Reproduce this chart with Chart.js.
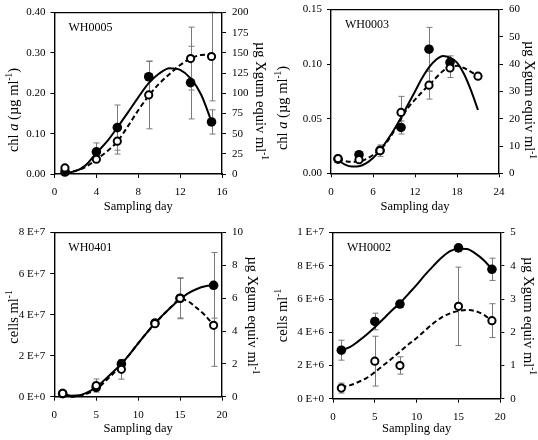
<!DOCTYPE html>
<html>
<head>
<meta charset="utf-8">
<script src="https://cdn.jsdelivr.net/npm/chart.js@4.4.1/dist/chart.umd.min.js"></script>
<style>
  body { margin: 0; background: #fff; }
  #wrap { position: relative; width: 538px; height: 440px; overflow: hidden; background: #fff; }
  canvas { position: absolute; }
</style>
</head>
<body>
<div id="wrap">
  <canvas id="c1" width="269" height="218" style="left:0;top:0"></canvas>
  <canvas id="c2" width="269" height="221" style="left:269px;top:-3px"></canvas>
  <canvas id="c3" width="269" height="220" style="left:0;top:220px"></canvas>
  <canvas id="c4" width="269" height="220" style="left:269px;top:220px"></canvas>
</div>
<script>
// ---- data ----
// WH0005
const days1 = [1, 4, 6, 9, 13, 15];
const chl1 = [0.005, 0.055, 0.115, 0.241, 0.2265, 0.129];
const chl1Err = [0, 0.022, 0.056, 0.038, 0.09, 0.03];
const xgum1 = [7.5, 18.3, 40.7, 98, 143, 145.6];
const xgum1Err = [0, 2, 16, 42, 39, 55];
const fitDays1 = [1, 2, 3, 4, 5, 6, 7, 8, 9, 10, 11, 12, 13, 14, 15];
const chlFit1 = [0.003, 0.007, 0.022, 0.052, 0.08, 0.115, 0.152, 0.19, 0.225, 0.249, 0.262, 0.258, 0.237, 0.197, 0.13];
const xgumFit1 = [3, 4, 9, 18, 28, 40, 59, 79, 97, 112, 124, 135, 143, 147.5, 148];
const leftTicks1 = ['0.00', '0.10', '0.20', '0.30', '0.40'];
const rightTicks1 = ['0', '25', '50', '75', '100', '125', '150', '175', '200'];
const xTicks1 = ['0', '4', '8', '12', '16'];

// WH0003
const daysF2 = [1, 4, 7, 10, 14, 17];
const chl2 = [0.013, 0.017, 0.021, 0.042, 0.1137, 0.1016];
const chl2Err = [0, 0, 0, 0.006, 0.02, 0.006];
const daysO2 = [1, 4, 7, 10, 14, 17, 21];
const xgum2 = [5.4, 5, 8.3, 22.3, 32.3, 38.6, 35.6];
const xgum2Err = [0, 0, 2.1, 5.9, 5.1, 3.5, 0];
const fitDays2 = [1, 2, 3, 4, 5, 6, 7, 8, 9, 10, 11, 12, 13, 14, 15, 16, 17, 18, 19, 20, 21];
const chlFit2 = [0.012, 0.008, 0.0062, 0.0065, 0.009, 0.014, 0.021, 0.03, 0.04, 0.051, 0.063, 0.075, 0.087, 0.097, 0.104, 0.1075, 0.106, 0.1015, 0.091, 0.076, 0.058];
const xgumFit2 = [5.2, 4.5, 4.2, 4.3, 5.2, 6.7, 8.6, 11.5, 15.5, 20, 24, 27, 29.8, 32.3, 35, 37.5, 39, 39.4, 38.6, 37.2, 35.6];
const leftTicks2 = ['0.00', '0.05', '0.10', '0.15'];
const rightTicks2 = ['0', '10', '20', '30', '40', '50', '60'];
const xTicks2 = ['0', '6', '12', '18', '24'];

// WH0401
const days3 = [1, 5, 8, 12, 15, 19];
const cells3 = [1.5e6, 4.5e6, 1.6e7, 3.59e7, 4.8e7, 5.43e7];
const cells3Err = [0, 0, 0, 0, 1.0e7, 1.6e7];
const xgum3 = [0.2, 0.68, 1.67, 4.45, 6.0, 4.35];
const xgum3Err = [0, 0.4, 0.6, 0, 1.2, 2.5];
const fitDays3 = [1, 2, 3, 4, 5, 6, 7, 8, 9, 10, 11, 12, 13, 14, 15, 16, 17, 18, 19];
const cellsFit3 = [1.5e6, 0.5e6, 0.7e6, 2.2e6, 4.6e6, 8.2e6, 1.2e7, 1.6e7, 2.08e7, 2.6e7, 3.1e7, 3.58e7, 4.0e7, 4.4e7, 4.75e7, 5.05e7, 5.25e7, 5.38e7, 5.43e7];
const xgumFit3 = [0.1, 0.0, 0.05, 0.2, 0.45, 0.9, 1.4, 2.0, 2.6, 3.25, 3.88, 4.45, 5.0, 5.5, 5.95, 5.8, 5.4, 4.95, 4.35];
const leftTicks3 = ['0 E+0', '2 E+7', '4 E+7', '6 E+7', '8 E+7'];
const rightTicks3 = ['0', '2', '4', '6', '8', '10'];
const xTicks3 = ['0', '5', '10', '15', '20'];

// WH0002
const days4 = [1, 5, 8, 15, 19];
const cells4 = [2.92e6, 4.65e6, 5.7e6, 9.08e6, 7.79e6];
const cells4Err = [0.6e6, 0.5e6, 0.2e6, 0.2e6, 0.67e6];
const xgum4 = [0.32, 1.13, 1.0, 2.78, 2.35];
const xgum4Err = [0.15, 0.75, 0.26, 1.18, 0.51];
const fitDays4 = [1, 2, 3, 4, 5, 6, 7, 8, 9, 10, 11, 12, 13, 14, 15, 16, 17, 18, 19];
const cellsFit4 = [2.9e6, 3.1e6, 3.45e6, 3.85e6, 4.3e6, 4.8e6, 5.3e6, 5.75e6, 6.3e6, 6.85e6, 7.45e6, 8.0e6, 8.5e6, 8.88e6, 9.03e6, 9.02e6, 8.75e6, 8.35e6, 7.8e6];
const xgumFit4 = [0.35, 0.4, 0.5, 0.62, 0.8, 1.0, 1.2, 1.42, 1.63, 1.83, 2.05, 2.27, 2.45, 2.57, 2.64, 2.67, 2.64, 2.53, 2.35];
const leftTicks4 = ['0 E+0', '2 E+6', '4 E+6', '6 E+6', '8 E+6', '1 E+7'];
const rightTicks4 = ['0', '1', '2', '3', '4', '5'];
const xTicks4 = ['0', '5', '10', '15', '20'];

// axis titles (italic / superscript parts)
const chlTitle = [{ t: 'chl ' }, { t: 'a', it: true }, { t: ' (µg ml' }, { t: '-1', sup: true }, { t: ')' }];
const cellsTitle = [{ t: 'cells ml' }, { t: '-1', sup: true }];
const xgumTitle = [{ t: 'µg Xgum equiv ml' }, { t: '-1', sup: true }];

const FONT = "'Liberation Serif', 'Times New Roman', serif";

function pts(xs, ys) {
    return xs.map(function (x, i) { return { x: x, y: ys[i] }; });
}

function drawRich(ctx, segs, x, y, rot, size) { // texte tourné avec italique / exposant
    function fontFor(s) {
        return (s.it ? 'italic ' : '') + (s.sup ? size * 0.65 : size) + 'px ' + FONT;
    }
    ctx.save();
    ctx.translate(x, y);
    ctx.rotate(rot);
    var w = 0;
    segs.forEach(function (s) { ctx.font = fontFor(s); w += ctx.measureText(s.t).width; });
    var cx = -w / 2;
    ctx.textBaseline = 'middle';
    ctx.fillStyle = '#000';
    segs.forEach(function (s) {
        ctx.font = fontFor(s);
        ctx.fillText(s.t, cx, s.sup ? -size * 0.3 : 0);
        cx += ctx.measureText(s.t).width;
    });
    ctx.restore();
}

// error bars (grey, under the markers) + top frame line + panel name + y titles
const extras = {
    id: 'extras',
    beforeDatasetsDraw(chart) {
        const ctx = chart.ctx;
        ctx.save();
        ctx.strokeStyle = '#7a7a7a';
        ctx.lineWidth = 1;
        chart.data.datasets.forEach(function (ds) {
            if (!ds.errors) return;
            const ys = chart.scales[ds.yAxisID];
            ds.data.forEach(function (p, j) {
                const e = ds.errors[j];
                if (!e) return;
                const x = Math.round(chart.scales.x.getPixelForValue(p.x)) + 0.5;
                const y1 = ys.getPixelForValue(p.y + e);
                const y2 = ys.getPixelForValue(p.y - e);
                ctx.beginPath();
                ctx.moveTo(x, y1); ctx.lineTo(x, y2);
                ctx.moveTo(x - 3, y1); ctx.lineTo(x + 3, y1);
                ctx.moveTo(x - 3, y2); ctx.lineTo(x + 3, y2);
                ctx.stroke();
            });
        });
        ctx.restore();
    },
    afterDraw(chart, args, opts) {
        const ctx = chart.ctx;
        const a = chart.chartArea;
        ctx.save();
        ctx.strokeStyle = '#000';
        ctx.lineWidth = 1.4;
        ctx.beginPath();
        ctx.moveTo(a.left, a.top);
        ctx.lineTo(a.right, a.top);
        ctx.stroke();
        ctx.fillStyle = '#000';
        ctx.font = '12px ' + FONT;
        ctx.textBaseline = 'middle';
        ctx.fillText(opts.text, a.left + 14, a.top + 15);
        ctx.restore();
        drawRich(ctx, opts.lTitle, 14, opts.lY, -Math.PI / 2, 14.5);
        drawRich(ctx, xgumTitle, opts.rX, opts.rY, Math.PI / 2, 14.5);
    }
};

function makePanel(id, p) {
    const axisFont = { family: FONT, size: 11 };
    new Chart(document.getElementById(id), {
        type: 'line',
        data: {
            datasets: [
                { data: pts(p.openDays, p.right), errors: p.rightErr, yAxisID: 'yR', showLine: false,
                  pointRadius: 3.6, pointBorderWidth: 2, pointBackgroundColor: '#fff', pointBorderColor: '#000' },
                { data: pts(p.days, p.left), errors: p.leftErr, yAxisID: 'yL', showLine: false,
                  pointRadius: 4.8, pointBorderWidth: 0, pointBackgroundColor: '#000', pointBorderColor: '#000' },
                { data: pts(p.fitDays, p.leftFit), yAxisID: 'yL', borderColor: '#000', borderWidth: 2,
                  pointRadius: 0, cubicInterpolationMode: 'monotone' },
                { data: pts(p.fitDays, p.rightFit), yAxisID: 'yR', borderColor: '#000', borderWidth: 2,
                  borderDash: [5, 3], pointRadius: 0, cubicInterpolationMode: 'monotone' }
            ]
        },
        options: {
            responsive: false,
            animation: false,
            clip: false,
            layout: { padding: { top: p.g.top, left: 0, right: 0, bottom: 0 } },
            plugins: {
                legend: { display: false }, tooltip: { enabled: false },
                extras: { text: p.name, lTitle: p.lTitle, rX: p.g.rx, lY: p.g.ly, rY: p.g.ry }
            },
            scales: {
                x: {
                    type: 'linear', min: p.xMin, max: p.xMax,
                    ticks: { stepSize: p.xStep, color: '#000', font: axisFont, padding: 8, maxRotation: 0,
                             callback: function (v, i) { return p.xTicks[i]; } },
                    grid: { drawOnChartArea: false, color: '#000', tickLength: 4 },
                    border: { color: '#000', width: 1.4 },
                    title: { display: true, text: 'Sampling day', color: '#000', font: { family: FONT, size: 12.5 },
                             padding: { top: 0, bottom: 4 } },
                    afterFit: function (s) { s.height = p.g.xH; }
                },
                yL: {
                    position: 'left', min: 0, max: p.lMax,
                    ticks: { stepSize: p.lStep, color: '#000', font: axisFont, padding: 5,
                             callback: function (v, i) { return p.lTicks[i]; } },
                    grid: { drawOnChartArea: false, color: '#000', tickLength: 4 },
                    border: { color: '#000', width: 1.4 },
                    afterFit: function (s) { s.width = p.g.yl; }
                },
                yR: {
                    position: 'right', min: 0, max: p.rMax,
                    ticks: { stepSize: p.rStep, color: '#000', font: axisFont, padding: 6,
                             callback: function (v, i) { return p.rTicks[i]; } },
                    grid: { drawOnChartArea: false, color: '#000', tickLength: 4 },
                    border: { color: '#000', width: 1.4 },
                    afterFit: function (s) { s.width = p.g.yr; }
                }
            }
        },
        plugins: [extras]
    });
}

makePanel('c1', {
    name: 'WH0005', days: days1, left: chl1, leftErr: chl1Err, openDays: days1, right: xgum1, rightErr: xgum1Err,
    fitDays: fitDays1, leftFit: chlFit1, rightFit: xgumFit1,
    xMin: 0, xMax: 16, xStep: 4, xTicks: xTicks1,
    lMax: 0.4, lStep: 0.1, lTicks: leftTicks1, lTitle: chlTitle,
    rMax: 200, rStep: 25, rTicks: rightTicks1,
    g: { top: 7, xH: 44, yl: 54.5, yr: 47, rx: 260, ly: 110, ry: 101 }
});

makePanel('c2', {
    name: 'WH0003', days: daysF2, left: chl2, leftErr: chl2Err, openDays: daysO2, right: xgum2, rightErr: xgum2Err,
    fitDays: fitDays2, leftFit: chlFit2, rightFit: xgumFit2,
    xMin: 0, xMax: 24, xStep: 6, xTicks: xTicks2,
    lMax: 0.15, lStep: 0.05, lTicks: leftTicks2, lTitle: chlTitle,
    rMax: 60, rStep: 10, rTicks: rightTicks2,
    g: { top: 8, xH: 44.7, yl: 62, yr: 39, rx: 259.5, ly: 111, ry: 103 }
});

makePanel('c3', {
    name: 'WH0401', days: days3, left: cells3, leftErr: cells3Err, openDays: days3, right: xgum3, rightErr: xgum3Err,
    fitDays: fitDays3, leftFit: cellsFit3, rightFit: xgumFit3,
    xMin: 0, xMax: 20, xStep: 5, xTicks: xTicks3,
    lMax: 8e7, lStep: 2e7, lTicks: leftTicks3, lTitle: cellsTitle,
    rMax: 10, rStep: 2, rTicks: rightTicks3,
    g: { top: 8.7, xH: 43.3, yl: 54.3, yr: 47, rx: 251.5, ly: 97, ry: 95.5 }
});

makePanel('c4', {
    name: 'WH0002', days: days4, left: cells4, leftErr: cells4Err, openDays: days4, right: xgum4, rightErr: xgum4Err,
    fitDays: fitDays4, leftFit: cellsFit4, rightFit: xgumFit4,
    xMin: 0, xMax: 20, xStep: 5, xTicks: xTicks4,
    lMax: 1e7, lStep: 2e6, lTicks: leftTicks4, lTitle: cellsTitle,
    rMax: 5, rStep: 1, rTicks: rightTicks4,
    g: { top: 8.7, xH: 41.3, yl: 64, yr: 37.7, rx: 259, ly: 95.5, ry: 96 }
});
</script>
</body>
</html>
